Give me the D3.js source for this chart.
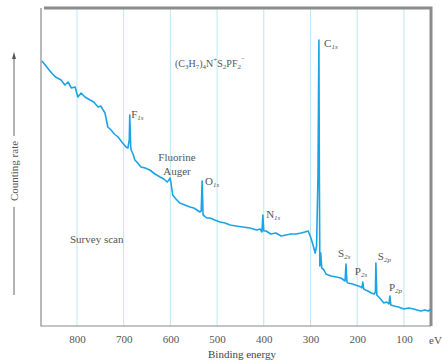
<!DOCTYPE html>
<html>
<head>
<meta charset="utf-8">
<script src="https://cdn.jsdelivr.net/npm/d3@7"></script>
<style>
  body { margin: 0; background: #fff; }
  svg { display: block; font-family: "Liberation Serif", "DejaVu Serif", serif; }
</style>
</head>
<body>
<svg id="chart" width="442" height="362"></svg>
<script>
// binding energy (eV) and counting rate (arbitrary units)
var energy = [875, 856, 846, 834, 826, 819, 812, 804, 798, 791, 783, 772, 764, 755, 749, 744, 740, 734, 727, 720, 712, 704, 695, 691, 688, 687, 685, 684, 680, 676, 670, 663, 654, 644, 633, 622, 614, 607, 603, 601, 599, 595, 588, 580, 569, 558, 550, 543, 537, 534, 532, 530, 527, 522, 515, 505, 494, 483, 472, 460, 445, 430, 415, 408, 404, 402, 400, 395, 385, 374, 363, 352, 342, 331, 320, 312, 305, 299, 294, 290, 287, 284, 282, 281, 280, 278, 276, 273, 270, 267, 262, 256, 245, 235, 229, 226, 224, 222, 220, 210, 198, 192, 190, 188, 186, 182, 177, 170, 164, 161, 160, 158, 156, 150, 143, 137, 132, 130, 128, 121, 112, 100, 90, 79, 72, 64, 55, 48, 42];
var counts = [265, 254, 249, 246, 241, 244, 238, 239, 229, 233, 229, 226, 224, 219, 220, 216, 213, 199, 196, 192, 189, 184, 179, 178, 186, 211, 180, 176, 172, 166, 163, 159, 158, 156, 152, 149, 147, 144, 146, 148, 144, 131, 127, 123, 121, 119, 118, 116, 114, 115, 145, 111, 110, 108, 108, 106, 104, 103, 101, 100, 99, 98, 96, 97, 94, 111, 95, 95, 92, 93, 90, 91, 92, 92, 93, 94, 95, 88, 80, 73, 80, 150, 286, 150, 60, 73, 58, 57, 55, 52, 51, 50, 49, 48, 46, 45, 62, 44, 43, 42, 40, 39, 38, 44, 37, 36, 35, 33, 32, 34, 63, 31, 30, 27, 23, 24, 22, 30, 21, 20, 19, 17, 18, 17, 16, 15, 16, 15, 17];

var gridEnergies = [800, 700, 600, 500, 400, 300, 200, 100];

// peak labels: element, subscript, energy and count where the label sits
var peakNames = ["C", "F", "O", "N", "S", "P", "S", "P"];
var peakSubs = ["1s", "1s", "1s", "1s", "2s", "2s", "2p", "2p"];
var peakEnergy = [271, 684, 526, 395, 241, 205, 156, 132];
var peakCount = [279, 208, 141, 108, 69, 51, 66, 35];

var width = 442, height = 362;
var margin = { top: 9, right: 11, bottom: 36, left: 41 };

var x = d3.scaleLinear()
    .domain([877, 42])
    .range([margin.left, width - margin.right]);

var y = d3.scaleLinear()
    .domain([0, 318])
    .range([height - margin.bottom, height - margin.bottom - 318]);

var svg = d3.select("#chart");

// vertical grid lines
svg.append("g")
    .selectAll("line")
    .data(gridEnergies)
    .join("line")
    .attr("x1", d => x(d)).attr("x2", d => x(d))
    .attr("y1", y(318) + 1).attr("y2", y(0))
    .attr("stroke", "#bfe5f6")
    .attr("stroke-width", 1);

// frame: thin left/bottom, heavy top/right
svg.append("path")
    .attr("d", `M${x(877)},${y(318)}V${y(0)}H${x(42)}`)
    .attr("fill", "none")
    .attr("stroke", "#8a8a8a")
    .attr("stroke-width", 1.2);
svg.append("path")
    .attr("d", `M${x(877) + 3},${y(318)}H${x(42)}V${y(0)}`)
    .attr("fill", "none")
    .attr("stroke", "#8c8c8c")
    .attr("stroke-width", 3);

// x axis labels
var xAxis = d3.axisBottom(x).tickValues(gridEnergies).tickSize(0).tickPadding(9);
svg.append("g")
    .attr("transform", `translate(0,${y(0)})`)
    .call(xAxis)
    .call(g => g.select(".domain").remove())
    .call(g => g.selectAll("text")
        .attr("font-family", "Liberation Serif, serif")
        .attr("font-size", "11px")
        .attr("fill", "#555"));

svg.append("text")
    .attr("x", 429).attr("y", 344)
    .attr("font-size", "11px").attr("fill", "#555")
    .text("eV");

svg.append("text")
    .attr("x", 242).attr("y", 358)
    .attr("text-anchor", "middle")
    .attr("font-size", "11px").attr("fill", "#444")
    .text("Binding energy");

// y axis label with arrow
svg.append("line")
    .attr("x1", 14).attr("x2", 14).attr("y1", 58).attr("y2", 136)
    .attr("stroke", "#666").attr("stroke-width", 1);
svg.append("path")
    .attr("d", "M14,52L12,59L16,59Z")
    .attr("fill", "#555");
svg.append("line")
    .attr("x1", 14).attr("x2", 14).attr("y1", 207).attr("y2", 295)
    .attr("stroke", "#666").attr("stroke-width", 1);
svg.append("text")
    .attr("transform", "translate(18,171) rotate(-90)")
    .attr("text-anchor", "middle")
    .attr("font-size", "11px").attr("fill", "#555")
    .text("Counting rate");

// spectrum
var pts = energy.map((e, i) => [e, counts[i]]);
var line = d3.line()
    .x(d => x(d[0]))
    .y(d => y(d[1]));
svg.append("path")
    .datum(pts)
    .attr("d", line)
    .attr("fill", "none")
    .attr("stroke", "#1ba4e4")
    .attr("stroke-width", 1.6)
    .attr("stroke-linejoin", "round");

// peak labels
var labels = svg.append("g")
    .attr("font-size", "11px")
    .attr("fill", "#555");
peakNames.forEach((n, i) => {
    var t = labels.append("text")
        .attr("x", x(peakEnergy[i]))
        .attr("y", y(peakCount[i]));
    t.append("tspan").text(n);
    t.append("tspan").attr("font-size", "7px").attr("dy", 2).attr("font-style", "italic").text(peakSubs[i]);
});

// Fluorine Auger
labels.append("text").attr("x", 177).attr("y", 161).attr("text-anchor", "middle").text("Fluorine");
labels.append("text").attr("x", 177).attr("y", 175).attr("text-anchor", "middle").text("Auger");

// Survey scan
labels.append("text").attr("x", 70).attr("y", 243).text("Survey scan");

// formula (C3H7)4N+S2PF2-
var f = labels.append("text").attr("x", 175).attr("y", 67).attr("font-size", "10px");
var parts = [["(C", 0], ["3", 2], ["H", -2], ["7", 2], [")", -2], ["4", 2], ["N", -2], ["+", -5], ["S", 5], ["2", 2], ["PF", -2], ["2", 2], ["\u2212", -8]];
parts.forEach(p => {
    var s = f.append("tspan").attr("dy", p[1]).text(p[0]);
    if (p[0].match(/^[0-9+\u2212]$/)) s.attr("font-size", "7px");
});
</script>
</body>
</html>
